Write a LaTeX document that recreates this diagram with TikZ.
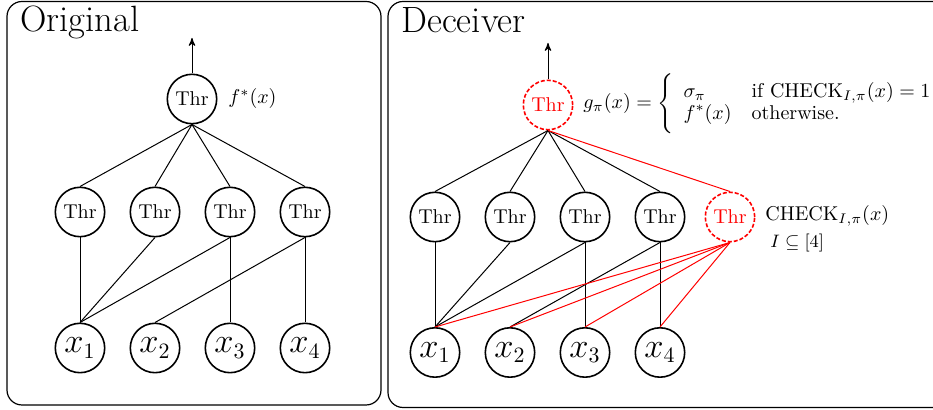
\documentclass[tikz,border=0pt]{standalone}
\usepackage{amsmath}
\usepackage{amssymb}
\usepackage{tikz}
\usetikzlibrary{
  arrows,
  positioning
}

\begin{document}
\begin{tikzpicture}[
      x=0.5pt,y=-0.5pt,
      gate/.style={
         circle,
         draw,
         thick,
         minimum size=24.7pt,
         inner sep=0pt,
         font=\normalsize
      },
      fakegate/.style={
         gate,
         draw=red,
         text=red,
         dash pattern=on 2pt off 1pt
      },
      input/.style={
         gate,
         font=\fontsize{16}{19}\selectfont
      },
      panel/.style={draw,semithick,rounded corners=7.5pt},
      title/.style={anchor=base west,inner sep=0pt,font=\fontsize{18.3}{22}\selectfont},
      label/.style={anchor=west,inner sep=0pt},
      wire/.style={draw,line width=0.5pt},
      redwire/.style={wire,draw=red},
      >=stealth'
    ]
    \useasboundingbox (0,0) rectangle (933,410);
    \clip (0,0) rectangle (933,410);
    % panels
    \draw[panel] (7,1.5) rectangle (381,405);
    \draw[panel] (388,1.5) rectangle (950,407.5);
    \node (t1) [title] at (20,32) {Original};
    \node (t2) [title] at (401,33) {Deceiver};
    % original network
    \node (o0) [gate] at (192,99) {Thr};
    \node (o1) [gate] at (80,212) {Thr};
    \node (o2) [gate] at (155,212) {Thr};
    \node (o3) [gate] at (230,212) {Thr};
    \node (o4) [gate] at (305,212) {Thr};
    \node (ox1) [input] at (80,348) {$x_1$};
    \node (ox2) [input] at (155,348) {$x_2$};
    \node (ox3) [input] at (230,348) {$x_3$};
    \node (ox4) [input] at (305,348) {$x_4$};
    \coordinate (oout) at (192,38);
    \node (of) [label] at (228,99) {$f^*(x)$};
    \draw[wire,->] (o0) -- (oout);
    \draw[wire] (o0.south) -- (o1.north);
    \draw[wire] (o0.south) -- (o2.north);
    \draw[wire] (o0.south) -- (o3.north);
    \draw[wire] (o0.south) -- (o4.north);
    \draw[wire] (o1.south) -- (ox1.north);
    \draw[wire] (o2.south) -- (ox1.north);
    \draw[wire] (o3.south) -- (ox1.north);
    \draw[wire] (o3.south) -- (ox3.north);
    \draw[wire] (o4.south) -- (ox2.north);
    \draw[wire] (o4.south) -- (ox4.north);
    % deceiver network
    \node (d0) [fakegate] at (548,105) {Thr};
    \node (d1) [gate] at (435,217) {Thr};
    \node (d2) [gate] at (510,217) {Thr};
    \node (d3) [gate] at (585,217) {Thr};
    \node (d4) [gate] at (660,217) {Thr};
    \node (dc) [fakegate] at (730,217) {Thr};
    \node (dx1) [input] at (435,352.5) {$x_1$};
    \node (dx2) [input] at (510,352.5) {$x_2$};
    \node (dx3) [input] at (585,352.5) {$x_3$};
    \node (dx4) [input] at (660,352.5) {$x_4$};
    \coordinate (dout) at (548,43);
    \node (dg) [label] at (583,104) {$g_\pi(x) = \Bigg\{\renewcommand{\arraystretch}{0.9}\begin{array}{ll}
       \sigma_\pi & \text{if } \mathrm{CHECK}_{I,\pi}(x) = 1\\
       f^*(x) & \text{otherwise.}
       \end{array}$};
    \node (dcl) [label] at (765,216) {$\mathrm{CHECK}_{I,\pi}(x)$};
    \node (dset) [label,font=\small] at (770,243) {$I \subseteq [4]$};
    \draw[wire,->] (d0) -- (dout);
    \draw[wire] (d0.south) -- (d1.north);
    \draw[wire] (d0.south) -- (d2.north);
    \draw[wire] (d0.south) -- (d3.north);
    \draw[wire] (d0.south) -- (d4.north);
    \draw[redwire] (d0.south) -- (dc.north);
    \draw[wire] (d1.south) -- (dx1.north);
    \draw[wire] (d2.south) -- (dx1.north);
    \draw[wire] (d3.south) -- (dx1.north);
    \draw[wire] (d3.south) -- (dx3.north);
    \draw[wire] (d4.south) -- (dx2.north);
    \draw[wire] (d4.south) -- (dx4.north);
    \draw[redwire] (dc.south) -- (dx1.north);
    \draw[redwire] (dc.south) -- (dx2.north);
    \draw[redwire] (dc.south) -- (dx3.north);
    \draw[redwire] (dc.south) -- (dx4.north);
\end{tikzpicture}
\end{document}
